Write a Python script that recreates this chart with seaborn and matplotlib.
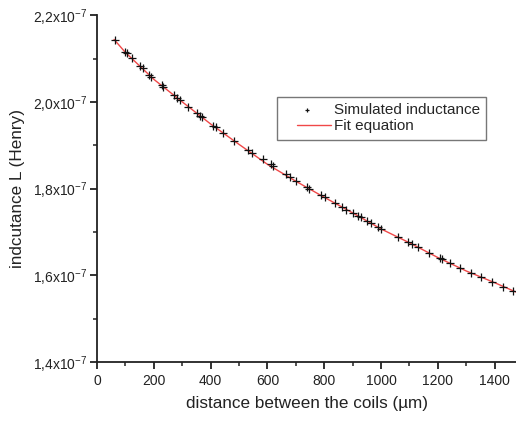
import numpy as np
import pandas as pd
import matplotlib
matplotlib.use('Agg')
import matplotlib.pyplot as plt
import seaborn as sns
from matplotlib.ticker import MultipleLocator, FuncFormatter

# simulated points (distance in um, inductance in 1e-7 H)
dist = [63, 98, 104, 122, 151, 161, 184, 189, 228, 231, 271, 282, 292, 321, 353, 362,
        368, 409, 419, 444, 482, 532, 544, 583, 611, 618, 667, 681, 700, 738,
        747, 790, 802, 837, 864, 876, 902, 919, 928, 949, 963, 989, 1001, 1060, 1095,
        1110, 1130, 1169, 1206, 1216, 1244, 1279, 1318, 1353, 1392, 1429, 1464]
induct = [2.1424, 2.1154, 2.1117, 2.1016, 2.0831, 2.0784, 2.0617, 2.0578, 2.0386, 2.0347,
          2.0156, 2.0093, 2.0040, 1.9886, 1.9734, 1.9679,
          1.9655, 1.9441, 1.9411, 1.9287, 1.9102, 1.8888, 1.8825, 1.8673, 1.8565, 1.8519,
          1.8334, 1.8258, 1.8180, 1.8028,
          1.7982, 1.7850, 1.7797, 1.7659, 1.7567, 1.7504, 1.7428, 1.7366, 1.7336, 1.7258,
          1.7198, 1.7120, 1.7059, 1.6889, 1.6773,
          1.6720, 1.6644, 1.6520, 1.6391, 1.6368, 1.6289, 1.6160, 1.6059, 1.5953, 1.5851,
          1.5736, 1.5644]

# fit curve
fit_x = [60, 100, 200, 300, 400, 500, 600, 700, 800, 900, 1000, 1100, 1200, 1300, 1400, 1480]
fit_y = [2.1440, 2.1140, 2.0520, 2.0000, 1.9490, 1.9020, 1.8560, 1.8170, 1.7800, 1.7440,
         1.7070, 1.6750, 1.6410, 1.6100, 1.5830, 1.5600]

y_ticks = [1.4, 1.6, 1.8, 2.0, 2.2]

df = pd.DataFrame({'x': dist, 'y': np.array(induct) * 1e-7})
fit = pd.DataFrame({'x': fit_x, 'y': np.array(fit_y) * 1e-7})

sns.set_style('ticks')
plt.rcParams['font.family'] = ['Liberation Sans', 'DejaVu Sans']
plt.rcParams['mathtext.fontset'] = 'custom'
plt.rcParams['mathtext.rm'] = 'Liberation Sans'

fig = plt.figure(figsize=(5.16, 4.21), dpi=100)
ax = fig.add_axes([0.188, 0.140, 0.812, 0.824])

sns.lineplot(data=fit, x='x', y='y', ax=ax, color='#f04848', linewidth=1.0,
             label='Fit equation', zorder=2)
sns.scatterplot(data=df, x='x', y='y', ax=ax, marker='+', color='#111111', s=26,
                linewidth=0.9, label='Simulated inductance', zorder=3)

ax.set_xlim(0, 1475)
ax.set_ylim(1.4e-7, 2.2e-7)
ax.xaxis.set_major_locator(MultipleLocator(200))
ax.xaxis.set_minor_locator(MultipleLocator(100))
ax.set_yticks([v * 1e-7 for v in y_ticks])
ax.yaxis.set_minor_locator(MultipleLocator(0.1e-7))


def fmt_y(v, pos):
    s = f'{v * 1e7:.1f}'.replace('.', ',')
    return s + r'x10$^{-7}$'


ax.yaxis.set_major_formatter(FuncFormatter(fmt_y))

for side in ['top', 'right']:
    ax.spines[side].set_visible(False)
for side in ['left', 'bottom']:
    ax.spines[side].set_linewidth(1.3)
    ax.spines[side].set_color('#222222')

ax.tick_params(which='major', direction='out', length=5, width=1.3,
               labelsize=10, colors='#222222')
ax.tick_params(axis='y', which='major', pad=2)
ax.tick_params(which='minor', direction='out', length=3, width=1.1, colors='#222222')

ax.set_xlabel('distance between the coils (µm)', fontsize=12.3, color='#222222', labelpad=6)
ax.set_ylabel('indcutance L (Henry)', fontsize=12.3, color='#222222', labelpad=6)

handles, labels = ax.get_legend_handles_labels()
order = [labels.index('Simulated inductance'), labels.index('Fit equation')]
leg = ax.legend([handles[i] for i in order], [labels[i] for i in order],
                loc='upper left', bbox_to_anchor=(0.43, 0.764), borderaxespad=0,
                fontsize=11, frameon=True, fancybox=False, handlelength=3.1,
                handletextpad=0.2, borderpad=0.4, labelspacing=0.15, markerscale=0.55)
leg.get_frame().set_edgecolor('#555555')
leg.get_frame().set_linewidth(1.0)
# the line sample starts a bit in from the frame, as in the original
for ln in leg.get_lines():
    xd = np.asarray(ln.get_xdata(), dtype=float)
    if len(xd) >= 2:
        start = xd[0] + 0.3 * (xd[-1] - xd[0])
        ln.set_xdata(np.linspace(start, xd[-1], len(xd)))

fig.savefig('out.png', dpi=100)
